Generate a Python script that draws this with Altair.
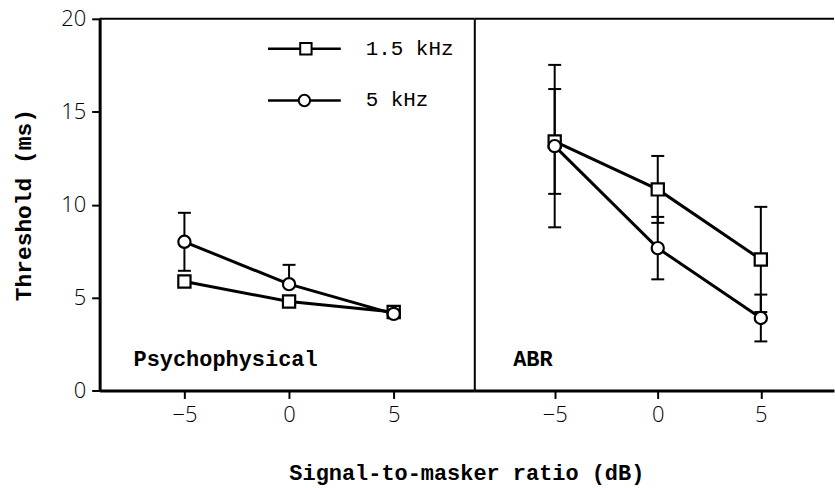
import altair as alt
import pandas as pd

# ---- data ----
snr = [-5, 0, 5]
series = ["1.5 kHz", "5 kHz"]
panels = ["Psychophysical", "ABR"]

psy_15 = [5.86, 4.79, 4.22]
psy_15_up = [0, 0, 0]
psy_15_dn = [0, 0, 0]
psy_5 = [8.0, 5.72, 4.12]
psy_5_up = [1.56, 1.04, 0]
psy_5_dn = [1.56, 0, 0]

abr_15 = [13.4, 10.82, 7.05]
abr_15_up = [2.82, 1.8, 2.83]
abr_15_dn = [2.82, 1.8, 2.83]
abr_5 = [13.15, 7.66, 3.9]
abr_5_up = [4.37, 1.68, 1.26]
abr_5_dn = [4.37, 1.68, 1.26]

y_ticks = [0, 5, 10, 15, 20]
x_ticks = [-5, 0, 5]

def build(vals):
    rows, caps = [], []
    for freq, y, up, dn in vals:
        for s, v, u, d in zip(snr, y, up, dn):
            rows.append({"freq": freq, "snr": s, "y": v, "lo": v - d, "hi": v + u})
            if u > 0:
                caps.append({"freq": freq, "snr": s, "c": v + u})
            if d > 0:
                caps.append({"freq": freq, "snr": s, "c": v - d})
    return pd.DataFrame(rows), pd.DataFrame(caps)

psy_df, psy_caps = build([(series[0], psy_15, psy_15_up, psy_15_dn),
                          (series[1], psy_5, psy_5_up, psy_5_dn)])
abr_df, abr_caps = build([(series[0], abr_15, abr_15_up, abr_15_dn),
                          (series[1], abr_5, abr_5_up, abr_5_dn)])

TICK_FONT = "Open Sans"
MONO = "Liberation Mono"
H = 373
WL, WR = 376, 361

yscale = alt.Scale(domain=[0, 20], nice=False)
shape_scale = alt.Scale(domain=series, range=["square", "circle"])
size_scale = alt.Scale(domain=series, range=[150, 150])


def panel(df, caps, xdom, width, label, label_x, left):
    xs = alt.Scale(domain=xdom, nice=False, zero=False)
    if left:
        xaxis = alt.Axis(values=x_ticks, title="Signal-to-masker ratio (dB)", grid=False,
                         titleX=368, titleY=89, titleBaseline="alphabetic",
                         titleFont=MONO, titleFontSize=22, titleFontWeight="bold")
        yaxis = alt.Axis(values=y_ticks, title="Threshold (ms)", grid=False,
                         titleFont=MONO, titleFontSize=23, titleFontWeight="bold",
                         titlePadding=25, domainWidth=3)
    else:
        xaxis = alt.Axis(values=x_ticks, title=None, grid=False)
        yaxis = alt.Axis(title=None, labels=False, ticks=False, grid=False, domainWidth=2)

    base = alt.Chart(df)
    bars = base.mark_rule(color="black", strokeWidth=2).encode(
        x=alt.X("snr:Q", scale=xs, axis=xaxis),
        y=alt.Y("lo:Q", scale=yscale, axis=yaxis),
        y2="hi:Q",
    )
    capm = alt.Chart(caps).mark_rule(color="black", strokeWidth=2, xOffset=-6.5, x2Offset=6.5).encode(
        x=alt.X("snr:Q", scale=xs), x2="snr:Q", y=alt.Y("c:Q", scale=yscale)
    )
    lines = base.mark_line(color="black", strokeWidth=3).encode(
        x=alt.X("snr:Q", scale=xs), y=alt.Y("y:Q", scale=yscale), detail="freq:N"
    )
    pts = base.mark_point(filled=False, fill="white", fillOpacity=1, color="black",
                          strokeWidth=2.2, opacity=1).encode(
        x=alt.X("snr:Q", scale=xs), y=alt.Y("y:Q", scale=yscale),
        shape=alt.Shape("freq:N", scale=shape_scale, legend=None),
        size=alt.Size("freq:N", scale=size_scale, legend=None),
    )
    lab = alt.Chart(pd.DataFrame({"t": [label]})).mark_text(
        font=MONO, fontSize=22, fontWeight="bold", align="left", baseline="alphabetic", color="black"
    ).encode(text="t:N", x=alt.value(label_x), y=alt.value(348))
    top = alt.Chart(pd.DataFrame({"t": [0]})).mark_rule(color="black", strokeWidth=2).encode(
        x=alt.value(0), x2=alt.value(width), y=alt.value(0)
    )
    layers = [bars, capm, lines, pts, lab, top]
    if left:
        leg = pd.DataFrame({"freq": series})
        leg_rules = [
            alt.Chart(pd.DataFrame({"freq": [series[i]]})).mark_rule(color="black", strokeWidth=2.5).encode(
                x=alt.value(169), x2=alt.value(242), y=alt.value(yy))
            for i, yy in [(0, 30), (1, 82)]
        ]
        leg_pts = [
            alt.Chart(pd.DataFrame({"freq": [series[i]]})).mark_point(
                filled=False, fill="white", fillOpacity=1, color="black", strokeWidth=2, opacity=1,
                shape=shp, size=130).encode(x=alt.value(xx), y=alt.value(yy))
            for i, shp, xx, yy in [(0, "square", 207, 30), (1, "circle", 205.5, 82)]
        ]
        leg_txt = [
            alt.Chart(pd.DataFrame({"t": [series[i]]})).mark_text(
                font=MONO, fontSize=21, align="left", baseline="middle", color="black").encode(
                text="t:N", x=alt.value(267), y=alt.value(yy))
            for i, yy in [(0, 30), (1, 82)]
        ]
        layers += leg_rules + leg_pts + leg_txt
    return alt.layer(*layers).properties(width=width, height=H)


left = panel(psy_df, psy_caps, [-9.05, 8.85], WL, panels[0], 34, True)
right = panel(abr_df, abr_caps, [-8.9, 8.55], WR, panels[1], 39, False)

chart = alt.hconcat(left, right, spacing=0, bounds="flush").properties(
    padding={"left": 12, "top": 7, "right": 0, "bottom": 2}
).configure_view(stroke=None).configure_axis(
    labelFont=TICK_FONT, labelFontSize=22, labelFontWeight=300, labelColor="black",
    domainColor="black", tickColor="black", domainWidth=3, tickWidth=2, tickSize=8,
    labelPadding=6, titleColor="black"
)

chart.save("out.html", embed_options={"renderer": "svg", "actions": False})
